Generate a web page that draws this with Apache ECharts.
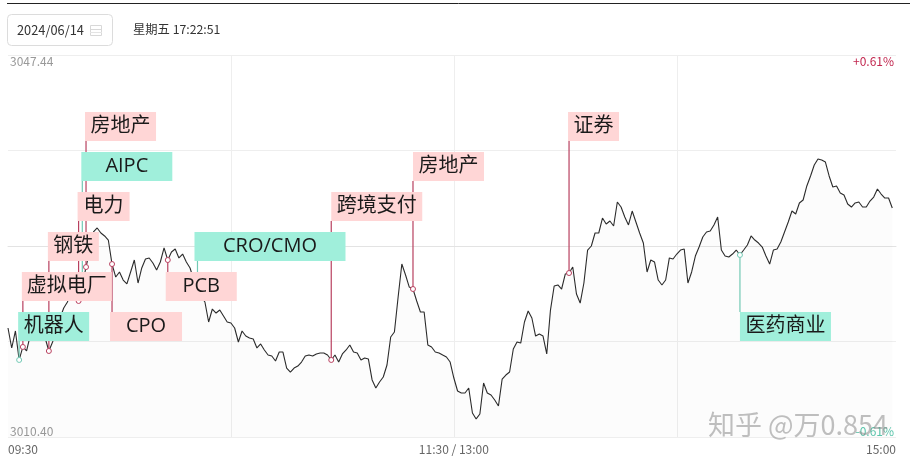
<!DOCTYPE html>
<html>
<head>
<meta charset="utf-8">
<title>2024/06/14</title>
<script src="https://cdn.jsdelivr.net/npm/echarts@6/dist/echarts.min.js"></script>
<style>
    html, body { margin: 0; padding: 0; background: #fff; }
    #chart { width: 910px; height: 462px; }
</style>
</head>
<body>
<div id="chart"></div>
<script>
// 分时价格（每分钟一个点，从 09:30 起）
const prices = [
    3020.97, 3019.03, 3020.68, 3017.87, 3019.13, 3018.74, 3020.29, 3021.26, 3021.55, 3020.97,
    3020.00, 3018.74, 3019.61, 3020.78, 3021.94, 3022.91, 3023.49, 3024.65, 3024.17, 3023.59,
    3025.14, 3026.88, 3028.53, 3030.28, 3030.67, 3030.18, 3029.89, 3029.50, 3027.17, 3025.91,
    3026.40, 3025.62, 3025.24, 3026.40, 3027.56, 3025.33, 3026.79, 3027.66, 3027.76, 3027.27,
    3026.59, 3027.37, 3028.73, 3027.56, 3028.34, 3028.63, 3027.76, 3028.14, 3027.37, 3026.79,
    3025.62, 3024.65, 3023.98, 3023.49, 3021.55, 3022.81, 3022.42, 3022.71, 3022.13, 3021.55,
    3021.45, 3020.97, 3019.61, 3020.68, 3020.19, 3020.00, 3019.90, 3019.03, 3019.42, 3018.84,
    3018.35, 3018.25, 3017.77, 3018.64, 3018.64, 3017.09, 3016.70, 3017.09, 3017.28, 3017.67,
    3018.25, 3018.35, 3018.25, 3018.45, 3018.55, 3018.55, 3018.35, 3017.87, 3018.35, 3017.67,
    3018.45, 3018.84, 3019.32, 3018.64, 3018.55, 3017.87, 3018.06, 3017.96, 3015.93, 3015.15,
    3015.73, 3016.22, 3017.38, 3020.10, 3020.58, 3023.98, 3027.17, 3026.11, 3024.94, 3024.75,
    3023.59, 3022.52, 3022.52, 3019.32, 3019.13, 3018.64, 3018.55, 3018.35, 3018.16, 3017.67,
    3016.12, 3014.86, 3014.67, 3014.67, 3015.15, 3012.73, 3012.15, 3012.63, 3015.64, 3014.67,
    3014.47, 3013.99, 3013.41, 3016.02, 3016.41, 3016.70, 3018.93, 3019.61, 3019.51, 3021.55,
    3022.62, 3021.94, 3020.19, 3020.39, 3020.19, 3018.45, 3022.71, 3025.04, 3025.14, 3024.75,
    3026.21, 3026.30, 3026.88, 3024.27, 3023.39, 3025.33, 3028.53, 3028.92, 3030.18, 3030.18,
    3031.63, 3031.05, 3031.34, 3030.86, 3033.19, 3032.70, 3031.73, 3030.96, 3032.31, 3031.25,
    3030.18, 3029.21, 3026.40, 3027.56, 3027.37, 3025.62, 3025.14, 3025.62, 3027.76, 3027.66,
    3028.14, 3028.53, 3028.63, 3025.33, 3026.40, 3027.95, 3028.82, 3029.79, 3030.28, 3030.37,
    3030.96, 3031.73, 3028.53, 3027.95, 3027.85, 3028.14, 3028.53, 3028.05, 3028.53, 3029.02,
    3029.89, 3029.50, 3029.21, 3028.82, 3027.95, 3027.17, 3028.53, 3028.63, 3029.31, 3030.28,
    3031.25, 3032.31, 3032.02, 3033.09, 3033.38, 3034.74, 3035.71, 3036.77, 3037.36, 3037.26,
    3037.06, 3035.71, 3034.64, 3034.74, 3034.06, 3033.86, 3032.99, 3032.70, 3033.09, 3033.19,
    3032.70, 3032.70, 3033.28, 3033.67, 3034.45, 3033.96, 3033.57, 3033.57, 3032.60
];

// 坐标轴刻度
const priceTicks = [3010.40, 3019.66, 3028.92, 3038.18, 3047.44];
const priceLabels = [3010.40, 3047.44];
const percentLabels = [-0.61, 0.61];
const minuteTicks = [0, 60, 120, 180, 239];
const timeLabels = { 0: '09:30', 120: '11:30 / 13:00', 239: '15:00' };

// 板块标注（名称 / 所在分钟 / 涨跌）
const eventNames = ['机器人', '虚拟电厂', '钢铁', '电力', 'AIPC', '房地产', 'CPO', 'PCB', 'CRO/CMO', '跨境支付', '房地产', '证券', '医药商业'];
const eventMinutes = [3, 4, 11, 19, 20, 21, 28, 43, 51, 87, 109, 151, 197];
const eventKinds = ['down', 'up', 'up', 'up', 'down', 'up', 'up', 'up', 'down', 'up', 'up', 'up', 'down'];

// 标注框的摆放（像素）
const boxTops = [312, 272, 232, 192, 152, 112, 312, 272, 232, 192, 152, 112, 312];
const boxWidths = [71, 90, 51, 52, 91, 71, 72, 71, 151, 91, 71, 51, 91];
const boxOffsets = [-1, -1, -1, -1, -1, -1, -2, -2, -3, 0, 0, -1, 0];
const BOX_HEIGHT = 29;
const BOX_FONT = '20px "Open Sans", "Noto Sans CJK SC", sans-serif';
const UI_FONT = '"Noto Sans CJK SC", sans-serif';

const COLORS = {
    up: { fill: '#ffd6d6', stem: '#b8405f' },
    down: { fill: '#a0efdb', stem: '#72c9b4' }
};

const chart = echarts.init(document.getElementById('chart'));

const eventData = eventMinutes.map((m, i) => [m, prices[m], i]);

// 竖线和小圆点，竖线只画到标注框的边上
function renderStem(params, api) {
    const i = api.value(2);
    const p = api.coord([api.value(0), api.value(1)]);
    const c = COLORS[eventKinds[i]];
    const edge = p[1] > boxTops[i] ? boxTops[i] + BOX_HEIGHT : boxTops[i];
    return {
        type: 'group',
        children: [
            {
                type: 'line',
                shape: { x1: p[0], y1: p[1], x2: p[0], y2: edge },
                style: { stroke: c.stem, lineWidth: 1.2 }
            },
            {
                type: 'circle',
                shape: { cx: p[0], cy: p[1], r: 2.5 },
                style: { fill: '#fff', stroke: c.stem, lineWidth: 1 }
            }
        ]
    };
}

// 标注框
function renderBox(params, api) {
    const i = api.value(2);
    const p = api.coord([api.value(0), api.value(1)]);
    const left = p[0] + boxOffsets[i];
    return {
        type: 'group',
        children: [
            {
                type: 'rect',
                shape: { x: left, y: boxTops[i], width: boxWidths[i], height: BOX_HEIGHT },
                style: { fill: COLORS[eventKinds[i]].fill }
            },
            {
                type: 'text',
                style: {
                    x: left + boxWidths[i] / 2,
                    y: boxTops[i] + BOX_HEIGHT / 2,
                    text: eventNames[i],
                    font: BOX_FONT,
                    fill: '#1a1a1a',
                    align: 'center',
                    verticalAlign: 'middle'
                }
            }
        ]
    };
}

chart.setOption({
    animation: false,
    grid: { left: 8, right: 14, top: 55, height: 382 },
    xAxis: {
        type: 'value',
        min: 0,
        max: 239,
        axisLine: { show: true, lineStyle: { color: '#e3e3e3' } },
        axisTick: { show: false, customValues: minuteTicks },
        axisLabel: {
            customValues: Object.keys(timeLabels).map(Number),
            formatter: v => timeLabels[v] || '',
            color: '#666',
            fontSize: 12,
            fontFamily: UI_FONT,
            margin: 6,
            alignMinLabel: 'left',
            alignMaxLabel: 'right'
        },
        splitLine: { show: true, showMinLine: false, showMaxLine: false, lineStyle: { color: '#eeeeee' } }
    },
    yAxis: [
        {
            type: 'value',
            min: priceLabels[0],
            max: priceLabels[1],
            axisLine: { show: false },
            axisTick: { show: false, customValues: priceTicks },
            axisLabel: {
                inside: true,
                customValues: priceLabels,
                formatter: v => v.toFixed(2),
                color: '#999',
                fontSize: 12,
                fontFamily: UI_FONT,
                margin: 2,
                verticalAlignMinLabel: 'bottom',
                verticalAlignMaxLabel: 'top'
            },
            splitLine: { show: true, lineStyle: { color: '#eeeeee' } }
        },
        {
            type: 'value',
            position: 'right',
            min: percentLabels[0],
            max: percentLabels[1],
            axisLine: { show: false },
            axisTick: { show: false, customValues: percentLabels },
            axisLabel: {
                inside: true,
                customValues: percentLabels,
                formatter: v => (v > 0 ? '+' : '') + v.toFixed(2) + '%',
                color: v => (v > 0 ? '#c2274f' : '#5cc7ad'),
                fontSize: 12,
                fontFamily: UI_FONT,
                margin: 2,
                verticalAlignMinLabel: 'bottom',
                verticalAlignMaxLabel: 'top'
            },
            splitLine: { show: false }
        }
    ],
    series: [
        {
            type: 'line',
            data: prices.map((v, i) => [i, v]),
            symbol: 'none',
            z: 2,
            lineStyle: { color: '#2b2b2b', width: 1.1 },
            areaStyle: { color: 'rgba(60,60,90,0.025)' }
        },
        {
            type: 'custom',
            data: eventData,
            renderItem: renderStem,
            encode: { x: 0, y: 1 },
            z: 3,
            silent: true
        },
        {
            type: 'custom',
            data: eventData,
            renderItem: renderBox,
            encode: { x: 0, y: 1 },
            z: 4,
            silent: true
        }
    ],
    graphic: [
        { type: 'line', shape: { x1: 7, y1: 3.5, x2: 910, y2: 3.5 }, style: { stroke: '#222', lineWidth: 1 } },
        { type: 'rect', shape: { x: 7.5, y: 14.5, width: 105, height: 31, r: 4 }, style: { fill: '#fff', stroke: '#dcdcdc', lineWidth: 1 } },
        { type: 'text', style: { x: 17, y: 30, text: '2024/06/14', font: '12.8px ' + UI_FONT, fill: '#333', verticalAlign: 'middle' } },
        { type: 'rect', shape: { x: 90.5, y: 25.5, width: 11, height: 10 }, style: { fill: 'none', stroke: '#d8d8d8', lineWidth: 1 } },
        { type: 'line', shape: { x1: 90, y1: 29.5, x2: 102, y2: 29.5 }, style: { stroke: '#d8d8d8', lineWidth: 1 } },
        { type: 'line', shape: { x1: 90, y1: 32.5, x2: 102, y2: 32.5 }, style: { stroke: '#e4e4e4', lineWidth: 1 } },
        { type: 'text', style: { x: 133, y: 29, text: '星期五 17:22:51', font: '12.3px ' + UI_FONT, fill: '#333', verticalAlign: 'middle' } },
        { type: 'text', z: 10, style: { x: 708, y: 425, text: '知乎 @万0.854', font: '27px ' + UI_FONT, fill: 'rgba(130,130,130,0.5)', verticalAlign: 'middle' } }
    ]
});
</script>
</body>
</html>
